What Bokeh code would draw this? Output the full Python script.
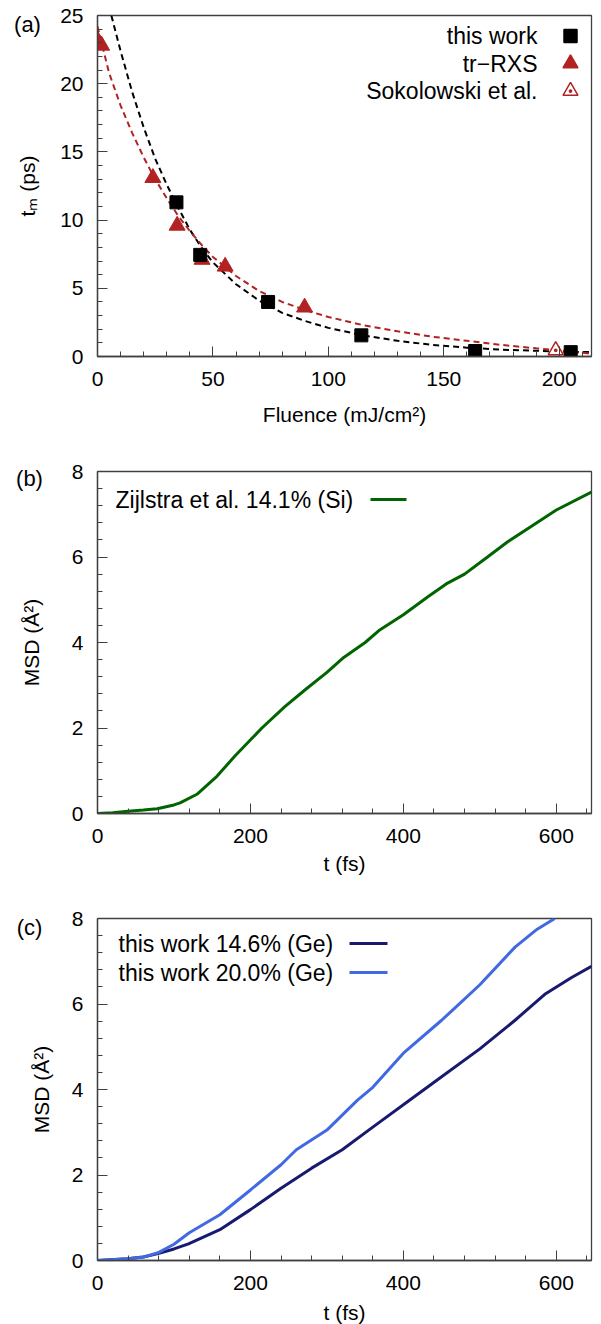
from bokeh.plotting import figure
from bokeh.models import Range1d, Label, FixedTicker
from bokeh.layouts import column
from bokeh.embed import file_html
from bokeh.resources import INLINE

FONT = "Liberation Sans"
FS = "21px"
LFS = "23px"
AXC = "#404040"

# ---------------- data: panel (a) ----------------
fluence_this = [34.2, 44.5, 73.9, 114.3, 163.6, 205.0]
tm_this = [11.3, 7.45, 4.0, 1.55, 0.4, 0.32]
fluence_rxs = [0.0, 1.8, 24.0, 34.5, 45.3, 55.3, 89.7]
tm_rxs = [23.2, 22.8, 13.1, 9.6, 7.1, 6.6, 3.6]
fluence_sok = [198.5]
tm_sok = [0.45]
fit_this_x = [6, 10, 15, 20, 25, 30, 35, 40, 45, 50, 60, 70, 80, 90, 100, 115, 130, 145, 160, 175, 190, 205, 214]
fit_this_y = [25.0, 22.4, 19.4, 16.8, 14.5, 12.6, 10.9, 9.3, 8.0, 6.9, 5.3, 4.1, 3.2, 2.6, 2.1, 1.55, 1.15, 0.85, 0.65, 0.5, 0.42, 0.35, 0.32]
fit_rxs_x = [0, 5, 10, 15, 20, 25, 30, 35, 40, 45, 50, 60, 70, 80, 90, 100, 115, 130, 145, 160, 175, 190, 200, 214]
fit_rxs_y = [24.2, 20.8, 18.4, 16.4, 14.6, 13.0, 11.6, 10.3, 9.2, 8.2, 7.3, 5.9, 4.8, 4.0, 3.4, 2.9, 2.3, 1.85, 1.45, 1.15, 0.85, 0.6, 0.45, 0.2]

# ---------------- data: panel (b) ----------------
t_si = [0, 20, 40, 60, 78, 100, 108, 130, 155, 180, 215, 245, 272, 300, 322, 350, 368, 400, 433, 456, 480, 510, 536, 570, 600, 646]
msd_si = [0, 0.02, 0.05, 0.08, 0.11, 0.2, 0.25, 0.45, 0.85, 1.35, 2.0, 2.5, 2.9, 3.3, 3.65, 4.0, 4.28, 4.65, 5.08, 5.37, 5.6, 6.0, 6.35, 6.75, 7.1, 7.52]

# ---------------- data: panel (c) ----------------
t_ge146 = [0, 39, 60, 79, 100, 119, 160, 200, 240, 280, 320, 360, 408, 450, 500, 546, 586, 620, 646]
msd_ge146 = [0, 0.04, 0.08, 0.16, 0.27, 0.39, 0.72, 1.19, 1.69, 2.16, 2.59, 3.12, 3.75, 4.3, 4.95, 5.62, 6.24, 6.62, 6.88]
t_ge200 = [0, 40, 60, 79, 100, 120, 160, 200, 240, 260, 300, 340, 360, 400, 450, 470, 500, 546, 575, 598]
msd_ge200 = [0, 0.04, 0.08, 0.18, 0.38, 0.65, 1.07, 1.65, 2.24, 2.59, 3.05, 3.75, 4.05, 4.85, 5.62, 5.95, 6.45, 7.33, 7.75, 8.0]

FW = 494


def make_fig(xr, yr, fh, top, bottom, xmaj, xmin, ymaj, ymin, xlabel, ylabel, xls, yls):
    p = figure(frame_width=FW, frame_height=fh, x_range=Range1d(*xr), y_range=Range1d(*yr),
               min_border_left=97, min_border_right=2, min_border_top=top, min_border_bottom=bottom,
               output_backend="svg", toolbar_location=None)
    p.grid.visible = False
    p.outline_line_color = AXC
    p.outline_line_width = 1.3
    p.xaxis.ticker = FixedTicker(ticks=xmaj, minor_ticks=xmin)
    p.yaxis.ticker = FixedTicker(ticks=ymaj, minor_ticks=ymin)
    for ax in (p.xaxis[0], p.yaxis[0]):
        ax.major_tick_in = 10
        ax.major_tick_out = 0
        ax.minor_tick_in = 5
        ax.minor_tick_out = 0
        ax.axis_line_color = AXC
        ax.axis_line_width = 1.3
        ax.major_tick_line_color = AXC
        ax.minor_tick_line_color = AXC
        ax.major_label_text_font = FONT
        ax.major_label_text_font_size = FS
        ax.major_label_text_color = "black"
        ax.axis_label_text_font = FONT
        ax.axis_label_text_font_size = FS
        ax.axis_label_text_font_style = "normal"
        ax.axis_label_text_color = "black"
    p.xaxis.major_label_standoff = 15
    p.yaxis.major_label_standoff = 14
    p.xaxis.axis_label = xlabel
    p.yaxis.axis_label = ylabel
    p.xaxis.axis_label_standoff = xls
    p.yaxis.axis_label_standoff = yls
    return p


def pos(p, fh, ox, oy):
    x0, x1 = p.x_range.start, p.x_range.end
    y0, y1 = p.y_range.start, p.y_range.end
    return x0 + ox / FW * (x1 - x0), y1 - oy / fh * (y1 - y0)


def text(p, fh, ox, oy, s, align="left", size=LFS, place=None):
    x, y = pos(p, fh, ox, oy)
    lab = Label(x=x, y=y, text=s, text_font=FONT, text_font_size=size, text_align=align,
                text_baseline="middle", text_color="black")
    if place is None:
        p.add_layout(lab)
    else:
        p.add_layout(lab, place)


# ---------------- panel (a) ----------------
FHA = 341
pa = make_fig((0, 214), (0, 25), FHA, 15, 105,
              [0, 50, 100, 150, 200], [v for v in range(10, 214, 10) if v % 50],
              [0, 5, 10, 15, 20, 25], [v for v in range(1, 25) if v % 5],
              "Fluence (mJ/cm\u00b2)", "t\u2098 (ps)", 14, 18)
pa.line(fit_this_x, fit_this_y, line_color="black", line_width=2, line_dash="6 4")
pa.line(fit_rxs_x, fit_rxs_y, line_color="#b22222", line_width=2, line_dash="6 4")
pa.scatter(fluence_rxs, tm_rxs, marker="triangle", size=16, fill_color="#b22222", line_color="#b22222")
pa.scatter(fluence_sok, tm_sok, marker="triangle_dot", size=15, fill_color="white", line_color="#b22222", line_width=1.5)
pa.scatter(fluence_this, tm_this, marker="square", size=13, fill_color="black", line_color="black")

leg_a = [("this work", "square", "black", "black"),
         ("tr\u2212RXS", "triangle", "#b22222", "#b22222"),
         ("Sokolowski et al.", "triangle_dot", "white", "#b22222")]
for i, (lab, mk, fc, lc) in enumerate(leg_a):
    oy = 20.5 + 27.5 * i
    text(pa, FHA, 440, oy, lab, align="right")
    mx, my = pos(pa, FHA, 473, oy)
    pa.scatter([mx], [my], marker=mk, size=13 if mk == "square" else 15, fill_color=fc, line_color=lc, line_width=1.5)
text(pa, FHA, -70, 8.5, "(a)", align="center", size="22px", place="below")

# ---------------- panel (b) ----------------
FHB = 342
pb = make_fig((0, 646), (0, 8), FHB, 10, 95,
              [0, 200, 400, 600], [v for v in range(40, 646, 40) if v % 200],
              [0, 2, 4, 6, 8], [round(0.4 * k, 1) for k in range(1, 20) if k % 5],
              "t (fs)", "MSD (\u00c5\u00b2)", 6, 26)
pb.line(t_si, msd_si, line_color="#006400", line_width=3)
text(pb, FHB, 18, 28, "Zijlstra et al. 14.1% (Si)")
lx0, ly = pos(pb, FHB, 273, 28)
lx1, _ = pos(pb, FHB, 309, 28)
pb.line([lx0, lx1], [ly, ly], line_color="#006400", line_width=3)
text(pb, FHB, -68, 7, "(b)", align="center", size="22px", place="below")

# ---------------- panel (c) ----------------
FHC = 342
pc = make_fig((0, 646), (0, 8), FHC, 10, 62,
              [0, 200, 400, 600], [v for v in range(40, 646, 40) if v % 200],
              [0, 2, 4, 6, 8], [round(0.4 * k, 1) for k in range(1, 20) if k % 5],
              "t (fs)", "MSD (\u00c5\u00b2)", 8, 16)
pc.line(t_ge146, msd_ge146, line_color="#191970", line_width=3)
pc.line(t_ge200, msd_ge200, line_color="#4169e1", line_width=3)
for i, (lab, col) in enumerate([("this work 14.6% (Ge)", "#191970"), ("this work 20.0% (Ge)", "#4169e1")]):
    oy = 25 + 29 * i
    text(pc, FHC, 21, oy, lab)
    lx0, ly = pos(pc, FHC, 252, oy)
    lx1, _ = pos(pc, FHC, 290, oy)
    pc.line([lx0, lx1], [ly, ly], line_color=col, line_width=3)
text(pc, FHC, -68, 9, "(c)", align="center", size="22px", place="left")

layout = column(pa, pb, pc, spacing=0)
open("out.html", "w").write(file_html(layout, INLINE))
